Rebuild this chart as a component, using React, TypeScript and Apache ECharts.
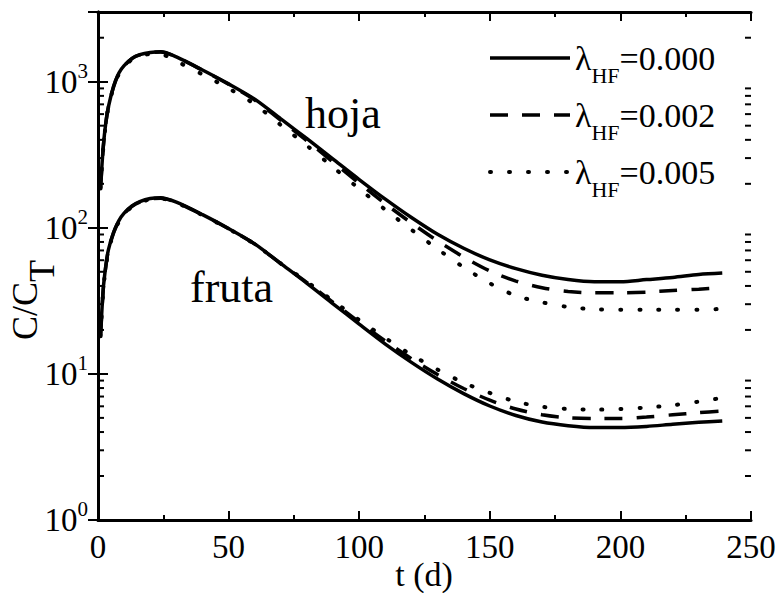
import React, { useEffect, useRef } from "react";
import * as echarts from "echarts";

const tDays = [1, 2, 3, 4, 6, 8, 10, 13, 16, 20, 24, 30, 40, 50, 60, 70, 80, 90, 100, 110, 120, 130, 140, 150, 160, 170, 180, 190, 200, 210, 220, 230, 239];

const hojaL0 = [190, 355, 525, 676, 933, 1148, 1288, 1445, 1531, 1585, 1603, 1479, 1202, 966, 759, 556, 407, 295, 214, 157, 117.5, 90.2, 72.4, 60.3, 52.5, 47.3, 44.2, 42.7, 42.7, 44.2, 45.7, 47.9, 49];
const hojaL2 = [188, 352, 522, 672, 928, 1140, 1282, 1440, 1525, 1580, 1598, 1475, 1198, 960, 750, 543, 394, 282, 202, 146, 108, 81.3, 63.1, 50.7, 43.2, 38.9, 36.7, 35.9, 35.9, 36.3, 37.2, 38, 38.9];
const hojaL5 = [186, 350, 518, 668, 920, 1130, 1265, 1420, 1500, 1545, 1540, 1380, 1122, 900, 700, 505, 365, 260, 185, 133, 97, 71.6, 53.7, 41.7, 34.3, 30.9, 28.7, 27.7, 27.5, 27.5, 27.5, 27.5, 27.9];

const frutaL0 = [18.5, 38, 55, 70.8, 93.3, 112, 126, 141, 151, 158.5, 160.3, 149.6, 123, 98.9, 77.6, 56.9, 41.7, 30.2, 21.9, 16.0, 12.0, 9.23, 7.33, 6.03, 5.19, 4.68, 4.42, 4.29, 4.29, 4.37, 4.52, 4.66, 4.76];
const frutaL2 = [18.3, 37.6, 54.5, 70.2, 92.6, 111, 125, 140, 150, 157.5, 159.5, 149, 122.5, 98.5, 77.3, 56.8, 42.2, 30.9, 22.6, 16.8, 12.7, 9.89, 7.94, 6.61, 5.75, 5.25, 5.01, 4.95, 4.95, 5.07, 5.25, 5.43, 5.58];
const frutaL5 = [18.1, 37.2, 54, 69.5, 91.8, 110, 124, 139, 149, 156.5, 158.5, 148.5, 122, 98.3, 77.2, 56.9, 42.7, 31.6, 23.4, 17.6, 13.5, 10.7, 8.71, 7.41, 6.46, 5.96, 5.75, 5.69, 5.75, 5.89, 6.10, 6.46, 6.85];

const legendNames = ["λHF=0.000", "λHF=0.002", "λHF=0.005"];
const xTicks = [0, 50, 100, 150, 200, 250];
const yMinorTicks = [2, 3, 4, 5, 6, 7, 8, 9, 20, 30, 40, 50, 60, 70, 80, 90, 200, 300, 400, 500, 600, 700, 800, 900, 2000];

const FONT = "Liberation Serif";

const toData = (arr: number[]) => tDays.map((t, i) => [t, arr[i]]);

export default function App() {
  const ref = useRef<HTMLDivElement>(null);
  useEffect(() => {
    if (!ref.current) return;
    const chart = echarts.init(ref.current, null, { renderer: "svg" });

    const solid = { color: "#000", width: 3.5, type: "solid" as const };
    const dashed = { color: "#000", width: 3.5, type: [18, 14] as any };
    const dotted = { color: "#000", width: 4, type: [1, 18] as any, cap: "round" as const };
    const styles = [solid, dashed, dotted];

    const lineSeries = (name: string, arr: number[], ls: any) => ({
      type: "line",
      name,
      data: toData(arr),
      showSymbol: false,
      symbol: "none",
      smooth: 0.3,
      lineStyle: ls,
      itemStyle: { color: "#000" },
      xAxisIndex: 0,
      yAxisIndex: 0,
      z: 3,
    });

    const xAxisBase = {
      type: "value",
      min: 0,
      max: 250,
      interval: 50,
      axisLine: { show: true, lineStyle: { color: "#000", width: 3 } },
      axisTick: { show: true, inside: true, length: 9, lineStyle: { color: "#000", width: 2 } },
      minorTick: { show: true, splitNumber: 2, length: 5, lineStyle: { color: "#000", width: 2 } },
      splitLine: { show: false },
      minorSplitLine: { show: false },
    };

    const yAxisBase = {
      type: "log",
      logBase: 10,
      min: 1,
      max: 3000,
      axisLine: { show: true, lineStyle: { color: "#000", width: 3 } },
      axisTick: { show: true, inside: true, length: 10, lineStyle: { color: "#000", width: 2 } },
      splitLine: { show: false },
    };

    chart.setOption({
      animation: false,
      backgroundColor: "#fff",
      textStyle: { fontFamily: FONT, color: "#000" },
      grid: { left: 98, top: 12, right: 28, bottom: 73, containLabel: false, outerBoundsMode: "none" },
      xAxis: [
        {
          ...xAxisBase,
          position: "bottom",
          axisLabel: {
            show: true,
            color: "#000",
            fontFamily: FONT,
            fontSize: 33,
            margin: 10,
            customValues: xTicks,
          },
        },
        {
          ...xAxisBase,
          position: "top",
          axisLabel: { show: false },
        },
      ],
      yAxis: [
        {
          ...yAxisBase,
          position: "left",
          axisLabel: {
            show: true,
            margin: 10,
            color: "#000",
            fontFamily: FONT,
            showMaxLabel: false,
            formatter: (v: number) => {
              const e = Math.log10(v);
              const r = Math.round(e);
              if (Math.abs(e - r) > 1e-6) return "";
              return `{b|10}{s|${r}}`;
            },
            rich: {
              b: { fontFamily: FONT, fontSize: 33, lineHeight: 36, color: "#000" },
              s: { fontFamily: FONT, fontSize: 21, lineHeight: 20, padding: [0, 0, 22, 0], color: "#000" },
            },
          },
        },
        {
          ...yAxisBase,
          position: "right",
          axisLabel: { show: false },
        },
      ],
      legend: {
        show: true,
        orient: "vertical",
        left: 488,
        top: 30,
        padding: 0,
        itemWidth: 80,
        itemHeight: 20,
        itemGap: 1,
        data: legendNames.map((n, i) => ({ name: n, lineStyle: { ...styles[i] } })),
        selectedMode: false,
        itemStyle: { opacity: 0 },
        formatter: (name: string) => {
          const val = name.split("=")[1];
          return `{l|λ}{s|HF}{e|=${val}}`;
        },
        textStyle: {
          color: "#000",
          fontFamily: FONT,
          rich: {
            l: { fontFamily: FONT, fontSize: 34, lineHeight: 36, color: "#000" },
            s: { fontFamily: FONT, fontSize: 22, lineHeight: 20, padding: [34, 0, 0, 0], color: "#000" },
            e: { fontFamily: FONT, fontSize: 34, lineHeight: 36, color: "#000" },
          },
        },
      },
      graphic: [
        {
          type: "text",
          x: 25,
          y: 300,
          rotation: Math.PI / 2,
          style: {
            text: "{c|C/C}{t|T}",
            align: "center",
            verticalAlign: "middle",
            fill: "#000",
            fontFamily: FONT,
            rich: {
              c: { fontFamily: FONT, fontSize: 36, lineHeight: 36, fill: "#000" },
              t: { fontFamily: FONT, fontSize: 36, lineHeight: 36, padding: [34, 0, 0, 0], fill: "#000" },
            },
          },
        },
        {
          type: "text",
          x: 424,
          y: 574,
          style: { text: "t (d)", fontFamily: FONT, fontSize: 34, lineHeight: 34, fill: "#000", align: "center", verticalAlign: "middle" },
        },
        {
          type: "text",
          x: 305,
          y: 113,
          style: { text: "hoja", fontFamily: FONT, fontSize: 44, fill: "#000", align: "left", verticalAlign: "middle" },
        },
        {
          type: "text",
          x: 190,
          y: 287,
          style: { text: "fruta", fontFamily: FONT, fontSize: 44, fill: "#000", align: "left", verticalAlign: "middle" },
        },
      ],
      series: [
        lineSeries(legendNames[0], hojaL0, solid),
        lineSeries(legendNames[1], hojaL2, dashed),
        lineSeries(legendNames[2], hojaL5, dotted),
        lineSeries(legendNames[0], frutaL0, solid),
        lineSeries(legendNames[1], frutaL2, dashed),
        lineSeries(legendNames[2], frutaL5, dotted),
        {
          type: "custom",
          name: "minorTicks",
          xAxisIndex: 0,
          yAxisIndex: 0,
          silent: true,
          clip: false,
          data: yMinorTicks.map((v) => [0, v]),
          renderItem: (params: any, api: any) => {
            const v = api.value(1);
            const pl = api.coord([0, v]);
            const pr = api.coord([250, v]);
            return {
              type: "group",
              children: [
                { type: "line", shape: { x1: pl[0], y1: pl[1], x2: pl[0] + 6, y2: pl[1] }, style: { stroke: "#000", lineWidth: 2 } },
                { type: "line", shape: { x1: pr[0], y1: pr[1], x2: pr[0] - 6, y2: pr[1] }, style: { stroke: "#000", lineWidth: 2 } },
              ],
            };
          },
        },
      ],
    });
    return () => chart.dispose();
  }, []);
  return <div ref={ref} style={{ position: "fixed", left: 0, top: 0, width: 779, height: 593 }} />;
}
